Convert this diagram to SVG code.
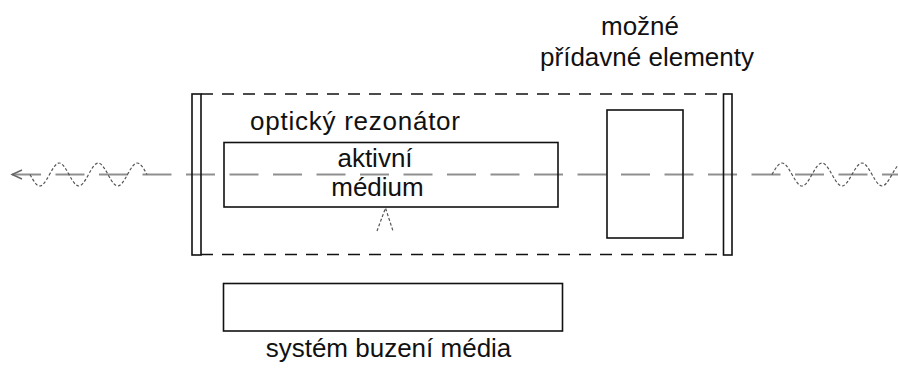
<svg xmlns="http://www.w3.org/2000/svg" width="898" height="369" viewBox="0 0 898 369">
<style>
.box{fill:none;stroke:#111;stroke-width:1.6}
.bound{fill:none;stroke:#111;stroke-width:1.4;stroke-dasharray:12 9}
.axis{fill:none;stroke:#8f8f8f;stroke-width:1.8;stroke-dasharray:29 14.5}
.wave{fill:none;stroke:#555;stroke-width:1.2;stroke-dasharray:3 2}
.lbl{font-family:"Liberation Sans",Arial,sans-serif;font-size:26px;fill:#111}
</style>
<rect width="898" height="369" fill="#fff"/>
<g id="connectors">
<line class="axis" x1="12" y1="174.5" x2="898" y2="174.5"/>
<polyline points="22,170 12,174.5 22,179" fill="none" stroke="#666" stroke-width="1.4"/>
<path class="wave" d="M30 174.5 c8.27 15.33 11.23 15.33 19.5 0 c8.27 -15.33 11.23 -15.33 19.5 0 c8.27 15.33 11.23 15.33 19.5 0 c8.27 -15.33 11.23 -15.33 19.5 0 c8.27 15.33 11.23 15.33 19.5 0 c8.27 -15.33 11.23 -15.33 19.5 0"/>
<path class="wave" d="M772 174.5 c8.48 -15.33 11.52 -15.33 20 0 c8.48 15.33 11.52 15.33 20 0 c8.48 -15.33 11.52 -15.33 20 0 c8.48 15.33 11.52 15.33 20 0 c8.48 -15.33 11.52 -15.33 20 0 c8.48 15.33 11.52 15.33 20 0 c8.48 -15.33 11.52 -15.33 20 0"/>
<polyline class="wave" points="377,231 385.5,208 393,231"/>
</g>
<g id="resonator">
<line class="bound" x1="201" y1="94" x2="723" y2="94"/>
<line class="bound" x1="201" y1="254.5" x2="723" y2="254.5"/>
<text class="lbl" x="250" y="130" textLength="210">optický rezonátor</text>
</g>
<g id="mirror-left"><rect class="box" x="192" y="94" width="9" height="161"/></g>
<g id="mirror-right"><rect class="box" x="723.5" y="94" width="8.5" height="161"/></g>
<g id="active-medium">
<rect class="box" x="224" y="142.5" width="334" height="64.5"/>
<text class="lbl" x="375" y="167" text-anchor="middle">aktivní</text>
<text class="lbl" x="377.5" y="196" text-anchor="middle">médium</text>
</g>
<g id="extra-elements">
<rect class="box" x="607" y="110" width="76" height="128"/>
<text class="lbl" x="640" y="35" text-anchor="middle">možné</text>
<text class="lbl" x="647" y="66" text-anchor="middle">přídavné elementy</text>
</g>
<g id="pump">
<rect class="box" x="223.5" y="283.5" width="339" height="47.5"/>
<text class="lbl" x="388.5" y="357" text-anchor="middle">systém buzení média</text>
</g>
</svg>
